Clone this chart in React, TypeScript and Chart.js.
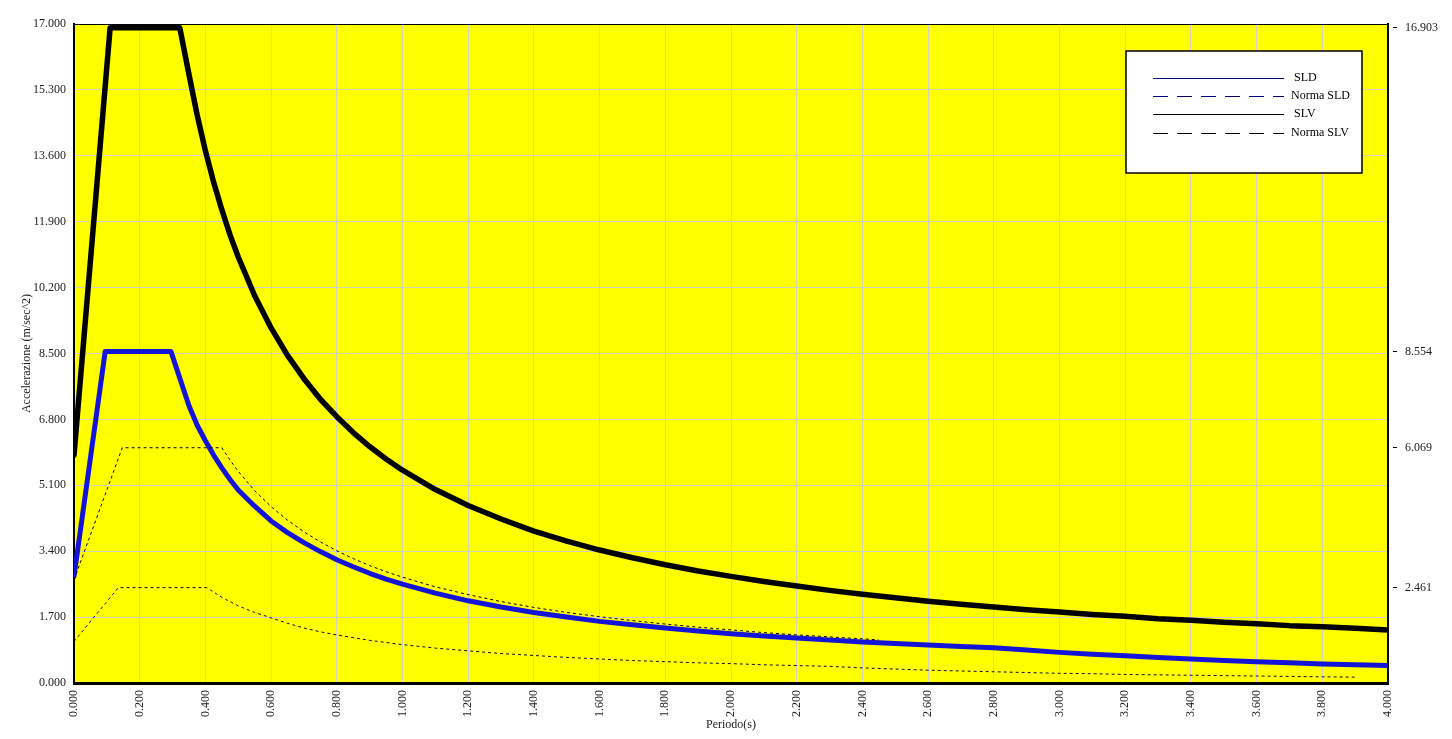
import React, { useEffect, useRef } from 'react';
import { Chart, registerables } from 'chart.js';

Chart.register(...registerables);

// ---- Data ----
const sldT = [0, 0.095, 0.295, 0.35, 0.375, 0.4, 0.425, 0.45, 0.475, 0.5, 0.55, 0.6, 0.65, 0.7, 0.75, 0.8, 0.85, 0.9, 0.95, 1.0, 1.1, 1.2, 1.3, 1.4, 1.5, 1.6, 1.7, 1.8, 1.9, 2.0, 2.1, 2.2, 2.3, 2.4, 2.5, 2.6, 2.7, 2.8, 2.9, 3.0, 3.1, 3.2, 3.3, 3.4, 3.5, 3.6, 3.7, 3.8, 3.9, 4.0];
const sldA = [2.75, 8.554, 8.554, 7.15, 6.65, 6.25, 5.88, 5.55, 5.25, 4.98, 4.56, 4.18, 3.88, 3.62, 3.39, 3.18, 3.00, 2.83, 2.68, 2.55, 2.32, 2.12, 1.96, 1.82, 1.70, 1.59, 1.50, 1.42, 1.34, 1.27, 1.21, 1.16, 1.11, 1.06, 1.02, 0.98, 0.94, 0.91, 0.85, 0.79, 0.74, 0.70, 0.66, 0.62, 0.58, 0.55, 0.52, 0.49, 0.47, 0.45];

const normaSldT = [0, 0.135, 0.404, 0.45, 0.5, 0.55, 0.6, 0.65, 0.7, 0.75, 0.8, 0.9, 1.0, 1.1, 1.2, 1.3, 1.4, 1.5, 1.6, 1.7, 1.8, 1.9, 2.0, 2.1, 2.2, 2.3, 2.4, 2.5, 2.6, 2.7, 2.8, 2.9, 3.0, 3.1, 3.2, 3.3, 3.4, 3.5, 3.6, 3.7, 3.8, 3.9];
const normaSldA = [1.07, 2.461, 2.461, 2.21, 1.99, 1.82, 1.68, 1.54, 1.42, 1.32, 1.24, 1.10, 0.99, 0.90, 0.83, 0.76, 0.71, 0.66, 0.62, 0.58, 0.55, 0.52, 0.50, 0.47, 0.45, 0.43, 0.39, 0.36, 0.33, 0.31, 0.29, 0.27, 0.25, 0.24, 0.22, 0.21, 0.20, 0.19, 0.18, 0.17, 0.16, 0.15];

const slvT = [0, 0.11, 0.322, 0.35, 0.375, 0.4, 0.425, 0.45, 0.475, 0.5, 0.55, 0.6, 0.65, 0.7, 0.75, 0.8, 0.85, 0.9, 0.95, 1.0, 1.1, 1.2, 1.3, 1.4, 1.5, 1.6, 1.7, 1.8, 1.9, 2.0, 2.1, 2.2, 2.3, 2.4, 2.5, 2.6, 2.7, 2.8, 2.9, 3.0, 3.1, 3.2, 3.3, 3.4, 3.5, 3.6, 3.7, 3.8, 3.9, 4.0];
const slvA = [5.88, 16.903, 16.903, 15.70, 14.65, 13.73, 12.92, 12.21, 11.56, 10.99, 9.99, 9.16, 8.45, 7.85, 7.32, 6.87, 6.46, 6.10, 5.78, 5.49, 4.99, 4.58, 4.23, 3.92, 3.66, 3.43, 3.23, 3.05, 2.89, 2.75, 2.62, 2.50, 2.39, 2.29, 2.20, 2.11, 2.03, 1.96, 1.89, 1.83, 1.77, 1.72, 1.66, 1.62, 1.57, 1.53, 1.48, 1.45, 1.41, 1.37];

const normaSlvT = [0, 0.147, 0.45, 0.475, 0.5, 0.55, 0.6, 0.65, 0.7, 0.75, 0.8, 0.85, 0.9, 0.95, 1.0, 1.1, 1.2, 1.3, 1.4, 1.5, 1.6, 1.7, 1.8, 1.9, 2.0, 2.1, 2.2, 2.3, 2.4, 2.45];
const normaSlvA = [2.66, 6.069, 6.069, 5.75, 5.46, 4.96, 4.55, 4.20, 3.90, 3.64, 3.41, 3.21, 3.03, 2.87, 2.73, 2.48, 2.28, 2.10, 1.95, 1.82, 1.71, 1.61, 1.52, 1.44, 1.37, 1.30, 1.24, 1.19, 1.14, 1.11];

const xTickValues = [0, 0.2, 0.4, 0.6, 0.8, 1.0, 1.2, 1.4, 1.6, 1.8, 2.0, 2.2, 2.4, 2.6, 2.8, 3.0, 3.2, 3.4, 3.6, 3.8, 4.0];
const yTickValues = [0, 1.7, 3.4, 5.1, 6.8, 8.5, 10.2, 11.9, 13.6, 15.3, 17.0];
const rightTickValues = [2.461, 6.069, 8.554, 16.903];

const seriesNames = ['SLD', 'Norma SLD', 'SLV', 'Norma SLV'];
const xTitle = 'Periodo(s)';
const yTitle = 'Accelerazione (m/sec^2)';

const FONT = '"Liberation Serif", "Times New Roman", serif';

const toPoints = (t: number[], a: number[]) => t.map((x, i) => ({ x, y: a[i] }));

const backgroundPlugin = {
  id: 'bgPlugin',
  beforeDraw(chart: any) {
    const { ctx, chartArea } = chart;
    ctx.save();
    ctx.fillStyle = '#ffffff';
    ctx.fillRect(0, 0, chart.width, chart.height);
    ctx.fillStyle = '#ffff00';
    ctx.fillRect(chartArea.left, chartArea.top, chartArea.right - chartArea.left, chartArea.bottom - chartArea.top);
    ctx.restore();
  },
  afterDraw(chart: any) {
    const { ctx, chartArea } = chart;
    ctx.save();
    ctx.strokeStyle = '#000';
    ctx.lineWidth = 1;
    ctx.beginPath();
    ctx.moveTo(chartArea.left, chartArea.top + 0.5);
    ctx.lineTo(chartArea.right, chartArea.top + 0.5);
    ctx.stroke();
    ctx.restore();
  },
};

const legendPlugin = {
  id: 'boxLegend',
  afterDraw(chart: any) {
    const { ctx } = chart;
    const bx = 1126, by = 51, bw = 236, bh = 122;
    ctx.save();
    ctx.fillStyle = '#ffffff';
    ctx.fillRect(bx, by, bw, bh);
    ctx.strokeStyle = '#000';
    ctx.lineWidth = 1.5;
    ctx.strokeRect(bx, by, bw, bh);
    const rows = [78, 96, 114, 133];
    chart.data.datasets.forEach((ds: any, i: number) => {
      const y = rows[i] + 0.5;
      ctx.beginPath();
      ctx.strokeStyle = ds.legendColor;
      ctx.lineWidth = 1;
      ctx.setLineDash(ds.borderDash && ds.borderDash.length ? [15, 9] : []);
      ctx.moveTo(1153, y);
      ctx.lineTo(1284, y);
      ctx.stroke();
      ctx.setLineDash([]);
      ctx.fillStyle = '#000';
      ctx.font = `12px ${FONT}`;
      ctx.textBaseline = 'middle';
      ctx.textAlign = 'left';
      const tx = ds.label.length > 3 ? 1291 : 1294;
      ctx.fillText(ds.label, tx, rows[i]);
    });
    ctx.restore();
  },
};

export default function App() {
  const canvasRef = useRef<HTMLCanvasElement | null>(null);

  useEffect(() => {
    const canvas = canvasRef.current;
    if (!canvas) return;
    const chart = new Chart(canvas, {
      type: 'line',
      data: {
        datasets: [
          {
            label: seriesNames[0],
            data: toPoints(sldT, sldA),
            borderColor: '#1414d8',
            legendColor: '#000080',
            borderWidth: 5,
            pointRadius: 0,
            tension: 0,
            borderCapStyle: 'round',
            borderJoinStyle: 'round',
            order: 2,
          } as any,
          {
            label: seriesNames[1],
            data: toPoints(normaSldT, normaSldA),
            borderColor: '#10103a',
            legendColor: '#000080',
            borderWidth: 1,
            borderDash: [3, 3],
            pointRadius: 0,
            tension: 0,
            order: 1,
          } as any,
          {
            label: seriesNames[2],
            data: toPoints(slvT, slvA),
            borderColor: '#000000',
            legendColor: '#000000',
            borderWidth: 5.5,
            pointRadius: 0,
            tension: 0,
            borderCapStyle: 'round',
            borderJoinStyle: 'round',
            order: 2,
          } as any,
          {
            label: seriesNames[3],
            data: toPoints(normaSlvT, normaSlvA),
            borderColor: '#000000',
            legendColor: '#000000',
            borderWidth: 1,
            borderDash: [3, 3],
            pointRadius: 0,
            tension: 0,
            order: 1,
          } as any,
        ],
      },
      options: {
        animation: false,
        responsive: false,
        devicePixelRatio: 1,
        layout: { padding: { top: 24, left: 0, right: 0, bottom: 0 } },
        plugins: {
          legend: { display: false },
          tooltip: { enabled: false },
        },
        scales: {
          x: {
            type: 'linear',
            position: 'bottom',
            min: 0,
            max: 4,
            afterBuildTicks: (scale: any) => {
              scale.ticks = xTickValues.map((v) => ({ value: v }));
            },
            afterFit: (scale: any) => {
              scale.height = 56;
            },
            ticks: {
              autoSkip: false,
              maxRotation: 90,
              minRotation: 90,
              padding: 7,
              color: '#222',
              font: { family: FONT, size: 12 },
              callback: (v: any) => Number(v).toFixed(3),
            },
            grid: { color: '#d2d2c0', lineWidth: 1, drawTicks: false },
            border: { color: '#000', width: 3 },
            title: {
              display: true,
              text: xTitle,
              color: '#222',
              font: { family: FONT, size: 12 },
              padding: { top: 0, bottom: 7 },
            },
          },
          y: {
            type: 'linear',
            position: 'left',
            min: 0,
            max: 17,
            afterBuildTicks: (scale: any) => {
              scale.ticks = yTickValues.map((v) => ({ value: v }));
            },
            afterFit: (scale: any) => {
              scale.width = 74;
            },
            ticks: {
              padding: 8,
              color: '#222',
              font: { family: FONT, size: 12 },
              callback: (v: any) => Number(v).toFixed(3),
            },
            grid: { color: '#d2d2c0', lineWidth: 1, drawTicks: false },
            border: { color: '#000', width: 2 },
            title: {
              display: true,
              text: yTitle,
              color: '#222',
              font: { family: FONT, size: 12 },
              padding: { top: 20, bottom: 0 },
            },
          },
          y2: {
            type: 'linear',
            position: 'right',
            min: 0,
            max: 17,
            afterBuildTicks: (scale: any) => {
              scale.ticks = rightTickValues.map((v) => ({ value: v }));
            },
            afterFit: (scale: any) => {
              scale.width = 64;
            },
            ticks: {
              padding: 8,
              color: '#222',
              font: { family: FONT, size: 12 },
              callback: (v: any) => Number(v).toFixed(3),
            },
            grid: {
              drawOnChartArea: false,
              drawTicks: true,
              tickLength: 9,
              tickColor: '#000',
              tickWidth: 1,
              tickBorderDash: [0, 4, 5, 60],
            },
            border: { color: '#000', width: 2 },
          },
        },
      } as any,
      plugins: [backgroundPlugin, legendPlugin],
    });
    return () => chart.destroy();
  }, []);

  return (
    <div style={{ position: 'fixed', left: 0, top: 0, width: 1452, height: 739, background: '#fff' }}>
      <canvas ref={canvasRef} width={1452} height={739} style={{ display: 'block', width: 1452, height: 739 }} />
    </div>
  );
}
